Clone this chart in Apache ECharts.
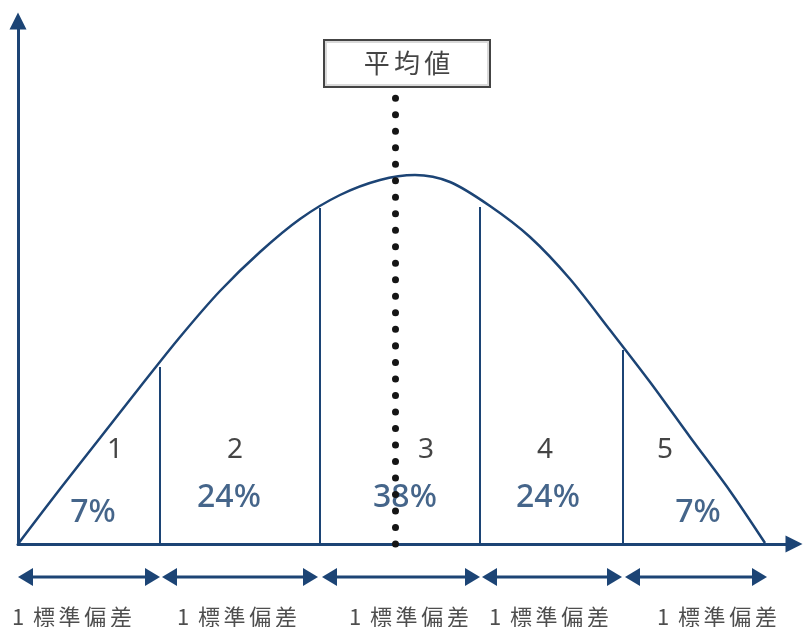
<!DOCTYPE html>
<html>
<head>
<meta charset="utf-8">
<script src="https://cdn.jsdelivr.net/npm/echarts@6/dist/echarts.min.js"></script>
<style>
  html, body { margin: 0; padding: 0; background: #fff; }
  #chart_id { width: 804px; height: 627px; }
</style>
</head>
<body>
<div id="chart_id"></div>
<script>
// curve (x along the axis, height above it)
var curveX = [0, 42, 82, 122, 162, 202, 242, 282, 322, 362, 397, 432, 472, 512, 552, 592, 632, 672, 712, 747];
var curveY = [0, 55, 106, 157, 207, 253, 292, 325, 349, 364, 369, 362, 338, 307, 265, 214, 162, 107, 53, 1];

// vertical dividers between the five bands
var dividerX = [142, 302, 462, 605];
var dividerTop = [177, 336, 337, 194];

// mean
var meanX = 377;
var meanTop = 447;
var meanLabel = '平\u2006均\u2006値';

// bands
var bandNames = ['1', '2', '3', '4', '5'];
var bandShares = ['7%', '24%', '38%', '24%', '7%'];
var bandNameX = [97, 217, 408, 527, 647];
var bandShareX = [75, 211, 387, 530, 680];
var bandShareY = [31, 46, 46, 46, 31];

// one standard deviation spans below the axis
var spanStart = [0, 144, 304, 464, 607];
var spanEnd = [142, 300, 462, 604, 749];
var spanLabel = '1 \u2006標\u2006準\u2006偏\u2006差';
var spanLabelX = [54, 219, 391, 531, 699];

var navy = '#1c4475';
var ink = '#151515';

var chart = echarts.init(document.getElementById('chart_id'));

// double headed arrow, tips on the span ends
function renderSpan(params, api) {
  var a = api.coord([api.value(0), 40]);
  var b = api.coord([api.value(1), 40]);
  var len = 15, half = 9;
  return {
    type: 'group',
    children: [
      {
        type: 'line',
        shape: { x1: a[0] + len - 2, y1: a[1], x2: b[0] - len + 2, y2: b[1] },
        style: { stroke: navy, lineWidth: 3 }
      },
      {
        type: 'polygon',
        shape: { points: [[a[0], a[1]], [a[0] + len, a[1] - half], [a[0] + len, a[1] + half]] },
        style: { fill: navy }
      },
      {
        type: 'polygon',
        shape: { points: [[b[0], b[1]], [b[0] - len, b[1] - half], [b[0] - len, b[1] + half]] },
        style: { fill: navy }
      }
    ]
  };
}

var option = {
  animation: false,
  grid: [
    { left: 18, top: 21, width: 776, bottom: 83 },
    { left: 18, top: 560, width: 776, height: 57 }
  ],
  xAxis: [
    {
      type: 'value', min: 0, max: 776, gridIndex: 0,
      axisLine: { show: true, symbol: ['none', 'triangle'], symbolSize: [17, 17],
        lineStyle: { color: navy, width: 3 } },
      axisTick: { show: false }, axisLabel: { show: false }, splitLine: { show: false }
    },
    {
      type: 'value', min: 0, max: 776, gridIndex: 1, show: false
    }
  ],
  yAxis: [
    {
      type: 'value', min: 0, max: 523, gridIndex: 0,
      axisLine: { show: true, symbol: ['none', 'triangle'], symbolSize: [17, 17],
        lineStyle: { color: navy, width: 3 } },
      axisTick: { show: false }, axisLabel: { show: false }, splitLine: { show: false }
    },
    {
      type: 'value', min: 0, max: 57, gridIndex: 1, show: false
    }
  ],
  series: [
    {
      type: 'line',
      data: curveX.map(function (x, i) { return [x, curveY[i]]; }),
      smooth: 0.3,
      symbol: 'none',
      lineStyle: { color: navy, width: 2.5 },
      markLine: {
        silent: true,
        symbol: 'none',
        label: { show: false },
        lineStyle: { color: navy, width: 2, type: 'solid' },
        data: dividerX.map(function (x, i) {
          return [{ coord: [x, 0] }, { coord: [x, dividerTop[i]] }];
        })
      },
      z: 2
    },
    {
      type: 'scatter',
      symbolSize: 0,
      data: bandNames.map(function (n, i) { return { value: [bandNameX[i], 94], name: n }; }),
      label: {
        show: true, position: 'inside', formatter: '{b}',
        color: ink, fontSize: 28, fontFamily: 'Noto Sans'
      },
      z: 3
    },
    {
      type: 'scatter',
      symbolSize: 0,
      data: bandShares.map(function (s, i) { return { value: [bandShareX[i], bandShareY[i]], name: s }; }),
      label: {
        show: true, position: 'inside', formatter: '{b}',
        color: '#173f6d', fontSize: 32, fontWeight: 500, fontFamily: 'Noto Sans'
      },
      z: 3
    },
    {
      type: 'line',
      data: [],
      markLine: {
        silent: true,
        symbol: 'none',
        label: { show: false },
        lineStyle: { color: ink, width: 7, type: [0.01, 16.5], cap: 'round' },
        data: [[{ coord: [meanX, 0] }, { coord: [meanX, meanTop] }]]
      },
      z: 5
    },
    {
      type: 'scatter',
      symbolSize: 0,
      data: [{ value: [389, 480.5], name: meanLabel }],
      label: {
        show: true, position: 'inside', formatter: '{b}',
        color: ink, fontSize: 26, fontFamily: 'Noto Sans CJK JP',
        backgroundColor: '#fff', borderColor: ink, borderWidth: 2,
        width: 164, height: 45, lineHeight: 45, align: 'center', verticalAlign: 'middle'
      },
      z: 6
    },
    {
      type: 'custom',
      xAxisIndex: 1, yAxisIndex: 1,
      silent: true,
      data: spanStart.map(function (x, i) { return [x, spanEnd[i]]; }),
      encode: { x: [0, 1] },
      renderItem: renderSpan
    },
    {
      type: 'scatter',
      xAxisIndex: 1, yAxisIndex: 1,
      symbolSize: 0,
      data: spanLabelX.map(function (x) { return { value: [x, 0], name: spanLabel }; }),
      label: {
        show: true, position: 'inside', formatter: '{b}',
        color: '#222', fontSize: 22, fontFamily: 'Noto Sans CJK JP'
      }
    }
  ]
};

chart.setOption(option);
</script>
</body>
</html>
